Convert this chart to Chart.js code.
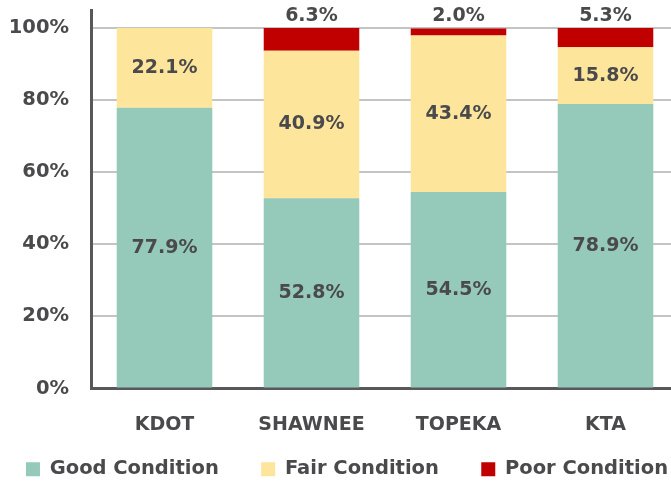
<!DOCTYPE html>
<html>
<head>
<meta charset="utf-8">
<script src="https://cdn.jsdelivr.net/npm/chart.js@4/dist/chart.umd.min.js"></script>
<style>
  html, body { margin: 0; padding: 0; background: #fff; overflow: hidden; }
  #wrap { position: absolute; left: -23px; top: 0; width: 740px; height: 485px; }
</style>
</head>
<body>
<div id="wrap"><canvas id="myChart"></canvas></div>
<script>
var categories = ['KDOT', 'SHAWNEE', 'TOPEKA', 'KTA'];
var goodValues = [77.9, 52.8, 54.5, 78.9];
var fairValues = [22.1, 40.9, 43.4, 15.8];
var poorValues = [0, 6.3, 2.0, 5.3];
var yTicks = [0, 20, 40, 60, 80, 100];

var textColor = '#4a4a4c';
var fontFamily = '"DejaVu Sans", sans-serif';

// draws the percentages on / above the bars
var barLabels = {
  id: 'barLabels',
  afterDatasetsDraw: function(chart) {
    var ctx = chart.ctx;
    ctx.save();
    ctx.fillStyle = textColor;
    ctx.font = 'bold 19px ' + fontFamily;
    ctx.textAlign = 'center';
    ctx.textBaseline = 'middle';
    chart.data.datasets.forEach(function(ds, di) {
      var meta = chart.getDatasetMeta(di);
      meta.data.forEach(function(bar, i) {
        var v = ds.data[i];
        if (!v) return;
        var txt = v.toFixed(1) + '%';
        if (di < 2) {
          ctx.fillText(txt, bar.x, (bar.y + bar.base) / 2);
        } else {
          ctx.fillText(txt, bar.x, bar.y - 12);
        }
      });
    });
    ctx.restore();
  }
};

var ctx = document.getElementById('myChart').getContext('2d');
var myChart = new Chart(ctx, {
  type: 'bar',
  data: {
    labels: categories,
    datasets: [
      { label: 'Good Condition', data: goodValues, backgroundColor: '#95c9ba' },
      { label: 'Fair Condition', data: fairValues, backgroundColor: '#fde59b' },
      { label: 'Poor Condition', data: poorValues, backgroundColor: '#c00000' }
    ]
  },
  options: {
    responsive: true,
    maintainAspectRatio: false,
    animation: false,
    layout: { padding: { top: 10, left: 0, right: 0, bottom: -4 } },
    datasets: { bar: { categoryPercentage: 1, barPercentage: 0.65 } },
    plugins: {
      legend: {
        position: 'bottom',
        labels: {
          boxWidth: 14,
          boxHeight: 14,
          padding: 19,
          color: textColor,
          font: { family: fontFamily, size: 19.5, weight: 'bold' },
          // extra gap after the first two items
          generateLabels: function(chart) {
            var items = Chart.defaults.plugins.legend.labels.generateLabels(chart);
            items.forEach(function(it, i) {
              if (i < items.length - 1) it.text = it.text + '\u2003\u2009';
            });
            return items;
          }
        }
      },
      tooltip: { enabled: false }
    },
    scales: {
      x: {
        stacked: true,
        grid: { display: false, drawTicks: false },
        border: { color: '#58585a', width: 3 },
        ticks: {
          color: textColor,
          padding: 25,
          font: { family: fontFamily, size: 19, weight: 'bold' }
        },
        afterFit: function(s) { s.height = 52; }
      },
      y: {
        stacked: true,
        min: 0,
        max: 105,
        grid: { color: '#c4c4c4', lineWidth: 2, drawTicks: false },
        border: { color: '#58585a', width: 3 },
        afterBuildTicks: function(s) {
          s.ticks = yTicks.map(function(v) { return { value: v }; });
        },
        ticks: {
          color: textColor,
          padding: 22,
          font: { family: fontFamily, size: 19.5, weight: 'bold' },
          callback: function(v) { return v + '%'; }
        },
        afterFit: function(s) {
          s.width = 114;
          s.paddingTop = 0;
          s.paddingBottom = 0;
        }
      },
      // empty space on the right so the plot runs past the page edge
      spacer: {
        position: 'right',
        display: true,
        grid: { display: false },
        border: { display: false },
        ticks: { display: false },
        afterFit: function(s) { s.width = 38; }
      }
    }
  },
  plugins: [barLabels]
});
</script>
</body>
</html>
